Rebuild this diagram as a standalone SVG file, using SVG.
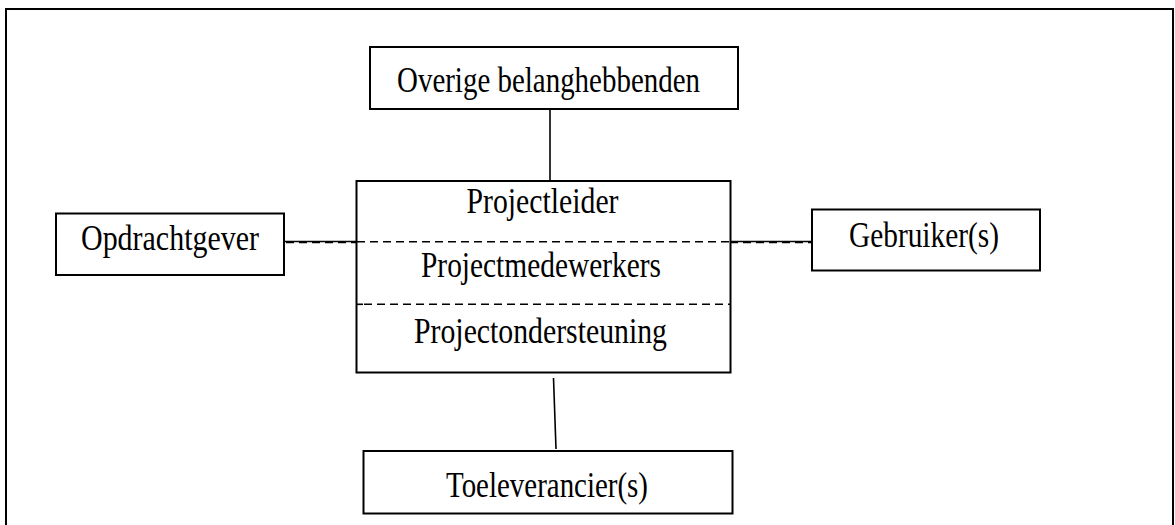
<svg xmlns="http://www.w3.org/2000/svg" width="1175" height="525" viewBox="0 0 1175 525">
<style>
.box{fill:#fff;stroke:#000;stroke-width:2}
.t{font-family:"Liberation Serif","Times New Roman",serif;font-size:36px;fill:#000;text-anchor:middle}
.ln{stroke:#000;stroke-width:1.6;fill:none}
.dash{stroke:#000;stroke-width:1.6;stroke-dasharray:8 5;fill:none}
</style>
<rect x="6" y="9" width="1167" height="530" fill="#fff" stroke="#000" stroke-width="2"/>
<g id="connectors">
<line class="ln" x1="550" y1="109" x2="550" y2="181"/>
<line class="ln" x1="553.5" y1="378" x2="556" y2="449"/>
<line class="ln" x1="284" y1="241.5" x2="357" y2="241.5"/>
<line class="dash" x1="286" y1="242.5" x2="357" y2="242.5"/>
<line class="ln" x1="730" y1="241.5" x2="812" y2="241.5"/>
<line class="dash" x1="730" y1="242.5" x2="812" y2="242.5"/>
</g>
<g id="overige">
<rect class="box" x="370" y="47" width="368" height="62"/>
<text class="t" x="548.5" y="91.5" textLength="303" lengthAdjust="spacingAndGlyphs">Overige belanghebbenden</text>
</g>
<g id="project">
<rect class="box" x="356.5" y="181" width="374" height="191.5"/>
<line class="dash" x1="357" y1="241.7" x2="730" y2="241.7"/>
<line class="ln" x1="357" y1="304.3" x2="363" y2="304.3" stroke-width="2.2"/>
<line class="dash" x1="364" y1="304.3" x2="730" y2="304.3"/>
<text class="t" x="542.5" y="212.5" textLength="152" lengthAdjust="spacingAndGlyphs">Projectleider</text>
<text class="t" x="541" y="277" textLength="240" lengthAdjust="spacingAndGlyphs">Projectmedewerkers</text>
<text class="t" x="540.5" y="343" textLength="253" lengthAdjust="spacingAndGlyphs">Projectondersteuning</text>
</g>
<g id="opdrachtgever">
<rect class="box" x="56" y="213.5" width="228" height="61.5"/>
<text class="t" x="170" y="249.5" textLength="178" lengthAdjust="spacingAndGlyphs">Opdrachtgever</text>
</g>
<g id="gebruiker">
<rect class="box" x="812" y="209.5" width="228" height="61"/>
<text class="t" x="924" y="247" textLength="150" lengthAdjust="spacingAndGlyphs">Gebruiker(s)</text>
</g>
<g id="toeleverancier">
<rect class="box" x="363.5" y="451" width="369" height="62.5"/>
<text class="t" x="547" y="497" textLength="202" lengthAdjust="spacingAndGlyphs">Toeleverancier(s)</text>
</g>
</svg>
